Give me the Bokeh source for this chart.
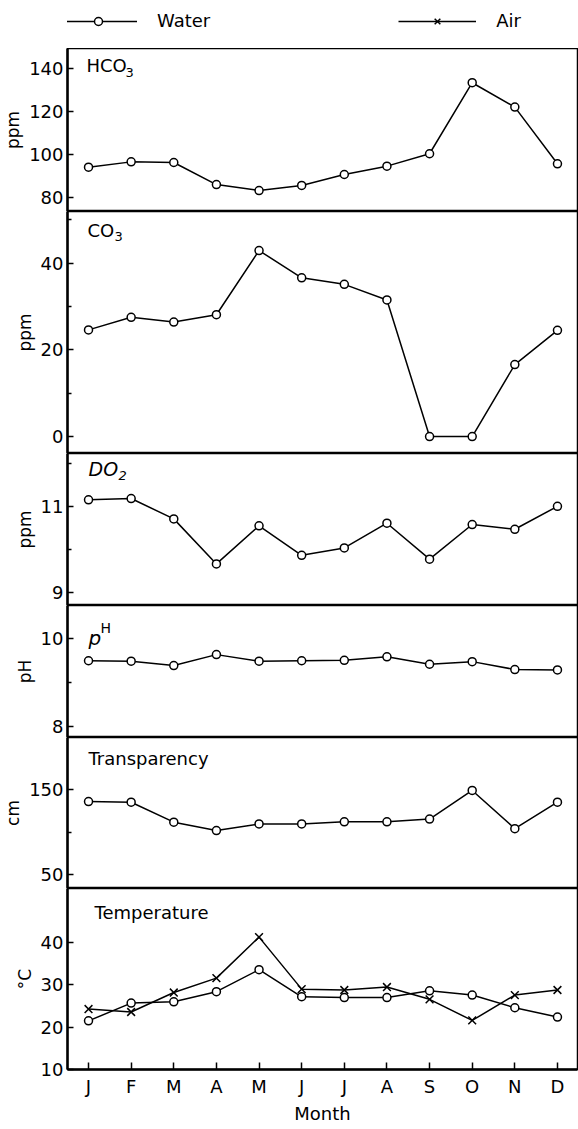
from bokeh.plotting import figure
from bokeh.layouts import column
from bokeh.models import Range1d, FixedTicker, Label, Legend, LegendItem
from bokeh.embed import file_html
from bokeh.resources import INLINE

# ---------------- data ----------------
months = [1, 2, 3, 4, 5, 6, 7, 8, 9, 10, 11, 12]
month_labels = ["J", "F", "M", "A", "M", "J", "J", "A", "S", "O", "N", "D"]

hco3_water = [94.0, 96.5, 96.2, 85.9, 83.1, 85.5, 90.6, 94.5, 100.3, 133.5, 122.1, 95.6]
co3_water = [24.6, 27.5, 26.4, 28.1, 42.9, 36.6, 35.1, 31.5, 0.0, 0.0, 16.6, 24.5]
do2_water = [11.15, 11.18, 10.71, 9.67, 10.55, 9.87, 10.04, 10.61, 9.78, 10.58, 10.47, 11.0]
ph_water = [9.50, 9.49, 9.39, 9.64, 9.49, 9.50, 9.51, 9.59, 9.42, 9.48, 9.30, 9.29]
transparency_water = [136.2, 135.4, 111.9, 102.0, 109.8, 109.8, 112.3, 112.3, 115.5, 149.2, 104.3, 135.4]
temp_water = [21.5, 25.7, 26.0, 28.4, 33.6, 27.2, 27.0, 27.0, 28.6, 27.6, 24.6, 22.4]
temp_air = [24.3, 23.6, 28.2, 31.6, 41.3, 29.0, 28.8, 29.5, 26.6, 21.6, 27.6, 28.8]

hco3_ticks = [80, 100, 120, 140]
co3_ticks, co3_minor = [0, 20, 40], [10, 30, 50]
do2_ticks, do2_minor = [9, 11], [10, 12]
ph_ticks, ph_minor = [8, 10], [9]
tr_ticks, tr_minor = [50, 150], [100]
temp_ticks = [10, 20, 30, 40]

FONT = "DejaVu Sans"
W = 578
LEFT = 67
RIGHT = 1

x_range = Range1d(0.507, 12.47)


def panel(frame_h, yr, ticks, minor, ylabel, bottom=0, xaxis=False):
    p = figure(width=W, height=frame_h + bottom, x_range=x_range,
               y_range=Range1d(*yr), output_backend="svg", toolbar_location=None,
               x_axis_location="below" if xaxis else None,
               min_border_left=LEFT, min_border_right=RIGHT,
               min_border_top=0, min_border_bottom=bottom)
    p.grid.visible = False
    p.outline_line_color = "black"
    p.outline_line_width = 1.5
    p.background_fill_color = "white"
    p.border_fill_color = "white"
    ax = p.yaxis[0]
    ax.ticker = FixedTicker(ticks=ticks, minor_ticks=minor)
    ax.axis_line_width = 2.5
    ax.axis_line_color = "black"
    ax.major_tick_in = 6
    ax.major_tick_out = 0
    ax.minor_tick_in = 4
    ax.minor_tick_out = 0
    ax.major_tick_line_width = 1.5
    ax.minor_tick_line_width = 1.5
    ax.major_label_standoff = 4
    ax.major_label_text_font = FONT
    ax.major_label_text_font_size = "18px"
    ax.major_label_text_color = "black"
    ax.axis_label = ylabel
    ax.axis_label_standoff = 3
    ax.axis_label_text_font = FONT
    ax.axis_label_text_font_size = "17px"
    ax.axis_label_text_font_style = "normal"
    ax.axis_label_text_color = "black"
    return p


def water(p, xs, vals):
    l = p.line(xs, vals, line_color="black", line_width=1.5)
    s = p.scatter(xs, vals, marker="circle", size=8, fill_color="white",
                  line_color="black", line_width=1.5)
    return l, s


def air(p, xs, vals):
    l = p.line(xs, vals, line_color="black", line_width=1.5)
    s = p.scatter(xs, vals, marker="x", size=11, line_color="black", line_width=1.5)
    return l, s


def lab(p, text, x, y, size="18px", style="normal"):
    p.add_layout(Label(x=x, y=y, x_units="screen", y_units="screen", text=text,
                       text_font=FONT, text_font_size=size, text_font_style=style,
                       text_baseline="middle", text_color="black"))


# Legend strip (series renderers kept outside the visible range; only the legend shows)
p0 = figure(width=W, height=48, x_range=x_range, y_range=Range1d(100, 101),
            output_backend="svg", toolbar_location=None,
            x_axis_location=None, y_axis_location=None,
            min_border_left=0, min_border_right=0, min_border_top=0, min_border_bottom=0)
p0.grid.visible = False
p0.outline_line_color = None
wl, ws = water(p0, months, temp_water)
al, as_ = air(p0, months, temp_air)
legend = Legend(items=[LegendItem(label="Water", renderers=[wl, ws]),
                       LegendItem(label="Air", renderers=[al, as_])],
                orientation="horizontal", location=(-8, 17),
                glyph_width=78, glyph_height=20, label_standoff=20, spacing=188,
                padding=0, margin=0, border_line_alpha=0, background_fill_alpha=0,
                label_text_font=FONT, label_text_font_size="18px",
                label_text_color="black")
p0.add_layout(legend, "center")

# HCO3
p1 = panel(163, (73.3, 149.5), hco3_ticks, [], "ppm")
water(p1, months, hco3_water)
lab(p1, "HCO", 19, 146)
lab(p1, "3", 58, 139, size="13px")

# CO3
p2 = panel(242, (-3.9, 51.9), co3_ticks, co3_minor, "ppm")
water(p2, months, co3_water)
lab(p2, "CO", 20, 223)
lab(p2, "3", 47, 217, size="13px")

# DO2
p3 = panel(152, (8.71, 12.22), do2_ticks, do2_minor, "ppm")
water(p3, months, do2_water)
lab(p3, "DO", 21, 137, size="19px", style="italic")
lab(p3, "2", 51, 130, size="13px", style="italic")

# pH
p4 = panel(132, (7.75, 10.76), ph_ticks, ph_minor, "pH")
water(p4, months, ph_water)
lab(p4, "p", 21, 100, size="20px", style="italic")
lab(p4, "H", 33, 110, size="14px")

# Transparency
p5 = panel(151, (33.9, 211.5), tr_ticks, tr_minor, "cm")
water(p5, months, transparency_water)
lab(p5, "Transparency", 21, 130)

# Temperature
p6 = panel(181, (10, 52.8), temp_ticks, [], "°C", bottom=59, xaxis=True)
water(p6, months, temp_water)
air(p6, months, temp_air)
lab(p6, "Temperature", 27, 157)
xa = p6.xaxis[0]
xa.ticker = FixedTicker(ticks=months)
xa.major_label_overrides = {m: t for m, t in zip(months, month_labels)}
xa.axis_line_width = 2.5
xa.major_tick_in = 7
xa.major_tick_out = 0
xa.major_tick_line_width = 1.5
xa.minor_tick_in = 0
xa.minor_tick_out = 0
xa.major_label_standoff = 6
xa.major_label_text_font = FONT
xa.major_label_text_font_size = "18px"
xa.major_label_text_color = "black"
xa.axis_label = "Month"
xa.axis_label_standoff = 3
xa.axis_label_text_font = FONT
xa.axis_label_text_font_size = "18px"
xa.axis_label_text_font_style = "normal"
xa.axis_label_text_color = "black"

layout = column(p0, p1, p2, p3, p4, p5, p6, spacing=0)

with open("out.html", "w") as f:
    f.write(file_html(layout, INLINE))
